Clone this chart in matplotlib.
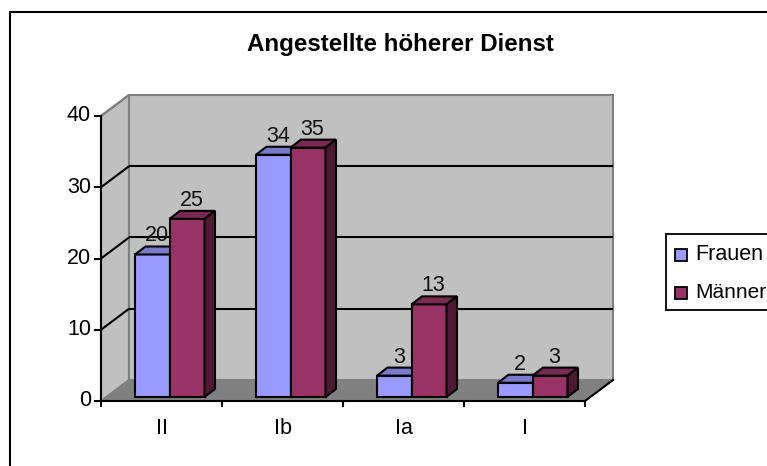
import matplotlib
matplotlib.use('Agg')
import matplotlib.pyplot as plt
from matplotlib.patches import Polygon, Rectangle

categories = ['II', 'Ib', 'Ia', 'I']
frauen = [20, 34, 3, 2]
maenner = [25, 35, 13, 3]
yticks = [0, 10, 20, 30, 40]

W, H = 767, 466
plt.rcParams['font.family'] = ['Liberation Sans', 'DejaVu Sans']

fig = plt.figure(figsize=(W / 100, H / 100), dpi=100, facecolor='white')
# front plane of the fake 3d box, pixel box from the picture
left, right, bottom, top = 101, 585, 401, 116
ax = fig.add_axes([left / W, 1 - bottom / H, (right - left) / W, (bottom - top) / H])
ax.set_xlim(0, 4)
ax.set_ylim(0, 40)
ax.axis('off')

# depth in data units
DX = 28 / 121
DY = 21 / 7.125
BW = 35 / 121          # bar width
X0 = 34 / 121          # first bar from category start
BDX = 10.5 / 121       # depth of one bar
BDY = 8 / 7.125
BASE = 4 / 7.125       # bars stand a little behind the front edge
LW = 1.5
FS = 15.5


def poly(pts, fc, ec='k', lw=LW, z=2):
    ax.add_patch(Polygon(pts, closed=True, facecolor=fc, edgecolor=ec, lw=lw,
                         zorder=z, clip_on=False, joinstyle='miter'))


n = len(categories)
# walls and floor
poly([(0, 0), (DX, DY), (DX, 40 + DY), (0, 40)], '#c0c0c0', '#808080', LW, 1)
poly([(DX, DY), (n + DX, DY), (n + DX, 40 + DY), (DX, 40 + DY)], '#c0c0c0', '#808080', LW, 1)
poly([(0, 0), (DX, DY), (n + DX, DY), (n, 0)], '#808080', '#808080', 1, 1)

for v in yticks[1:-1]:
    ax.plot([DX, n + DX], [v + DY, v + DY], c='k', lw=LW, zorder=1.5, clip_on=False,
            solid_capstyle='butt')
for v in yticks[1:]:
    ax.plot([0, DX], [v, v + DY], c='k' if v < 40 else '#808080', lw=LW, zorder=1.5,
            clip_on=False, solid_capstyle='butt')

# axes lines and ticks
ax.plot([0, 0], [0, 40], c='k', lw=LW, zorder=3, clip_on=False)
ax.plot([0, n], [0, 0], c='k', lw=LW, zorder=3, clip_on=False)
ax.plot([n, n + DX], [0, DY], c='k', lw=LW, zorder=1.6, clip_on=False)
for v in yticks:
    ax.plot([-6 / 121, 0], [v, v], c='k', lw=LW, zorder=3, clip_on=False)
    ax.text(-10 / 121, v, str(v), ha='right', va='center', fontsize=FS, color='k')
for i in range(n + 1):
    ax.plot([i, i], [0, -5 / 7.125], c='k', lw=LW, zorder=3, clip_on=False)
for i, c in enumerate(categories):
    ax.text(i + 0.5, -3.9, c, ha='center', va='center', fontsize=FS, color='k')


def bar(x, v, front, topc, side, z):
    x1 = x + BW
    y0 = BASE
    y1 = BASE + v
    poly([(x, y0), (x1, y0), (x1, y1), (x, y1)], front, z=z)
    poly([(x, y1), (x1, y1), (x1 + BDX, y1 + BDY), (x + BDX, y1 + BDY)], topc, z=z)
    poly([(x1, y0), (x1 + BDX, y0 + BDY), (x1 + BDX, y1 + BDY), (x1, y1)], side, z=z)
    ax.text(x + BW / 2 + 4.5 / 121, y1 + BDY, str(v), ha='center', va='bottom',
            fontsize=FS, color='#111111', zorder=z + 0.05)


for i in range(n):
    xa = i + X0
    bar(xa, frauen[i], '#9999ff', '#7a7acc', '#4c4c80', 4 + i)
    bar(xa + BW - 0.5 / 121, maenner[i], '#993366', '#7a2952', '#4d1933', 4.2 + i)

fig.text(400 / W, 1 - 44 / H, 'Angestellte höherer Dienst', ha='center', va='center',
         fontsize=17.4, fontweight='bold', color='k')

# chart frame, bottom and right run off the picture
fig.add_artist(Rectangle((10 / W, 1 - 480 / H), 780 / W, 468 / H, transform=fig.transFigure,
                         facecolor='none', edgecolor='k', lw=1.5, zorder=0))

# legend drawn by hand so it runs off the right edge like the picture
fig.add_artist(Rectangle((666 / W, 1 - 310 / H), 110 / W, 76 / H, transform=fig.transFigure,
                         facecolor='white', edgecolor='k', lw=1.3))
for name, col, yp, fs in [('Frauen', '#9999ff', 254.5, FS), ('Männer', '#993366', 292.5, 15)]:
    fig.add_artist(Rectangle((674.5 / W, 1 - (yp + 6) / H), 12 / W, 12 / H,
                             transform=fig.transFigure, facecolor=col, edgecolor='k', lw=1.3))
    fig.text(695 / W, 1 - (yp - 0.5) / H, name, ha='left', va='center', fontsize=fs, color='k')

fig.savefig('out.png', dpi=100)
